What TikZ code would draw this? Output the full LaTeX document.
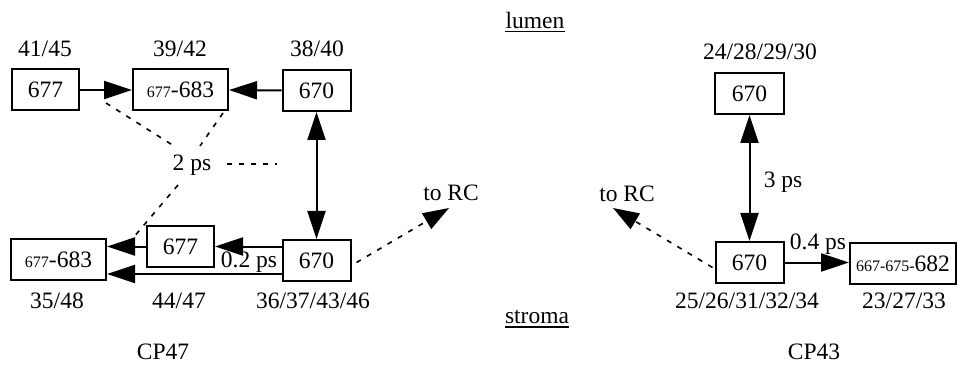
\documentclass[tikz,border=0pt]{standalone}
\usepackage{fontspec}
\setmainfont{Liberation Serif}
\usetikzlibrary{arrows.meta}
\newcommand{\sm}[1]{{\fontsize{16}{18}\selectfont #1}}
\begin{document}
\begin{tikzpicture}[x=1pt,y=-1pt,
  every node/.style={font=\fontsize{23.5}{28}\selectfont, inner sep=0pt},
  box/.style={draw, line width=2pt, minimum height=41pt, anchor=center},
  arr/.style={-{Triangle[length=28pt,width=18pt]}, line width=2pt},
  darr/.style={{Triangle[length=28pt,width=18pt]}-{Triangle[length=28pt,width=18pt]}, line width=2pt},
  dsh/.style={line width=1.6pt, dash pattern=on 5pt off 7pt},
  darw/.style={dsh, -{Triangle[length=26pt,width=18pt]}},
  lbl/.style={anchor=center}]
\useasboundingbox (0,0) rectangle (958,366);

% CP47 boxes
\node[box, minimum width=67pt] (a1) at (45.5,90) {677};
\node[box, minimum width=95pt] (a2) at (180.5,90) {\sm{677}-683};
\node[box, minimum width=68pt] (a3) at (316.5,90.5) {670};
\node[box, minimum width=95pt] (b1) at (58.5,259.5) {\sm{677}-683};
\node[box, minimum width=67pt] (b2) at (180.5,246.5) {677};
\node[box, minimum width=68pt] (b3) at (316.5,260.5) {670};

% CP43 boxes
\node[box, minimum width=69pt] (c1) at (749.5,93.5) {670};
\node[box, minimum width=68pt] (c2) at (749.5,262.5) {670};
\node[box, minimum width=106pt] (c3) at (903,263.5) {\sm{667-675-}682};

% labels
\node[lbl] (l1) at (45,49) {41/45};
\node[lbl] (l2) at (180,49) {39/42};
\node[lbl] (l3) at (317,49) {38/40};
\node[lbl] (l4) at (760,52) {24/28/29/30};
\node[lbl] (l5) at (57,301) {35/48};
\node[lbl] (l6) at (179,301) {44/47};
\node[lbl] (l7) at (313,301) {36/37/43/46};
\node[lbl] (l8) at (747,301) {25/26/31/32/34};
\node[lbl] (l9) at (904,301) {23/27/33};
\node[lbl] (cp47) at (163,352) {CP47};
\node[lbl] (cp43) at (814,352) {CP43};
\node[lbl] (lumen) at (535,20) {lumen};
\draw[line width=1.4pt] ([yshift=-3.5pt]lumen.base west) -- ([yshift=-3.5pt]lumen.base east);
\node[lbl] (stroma) at (537,317) {stroma};
\draw[line width=1.4pt] ([yshift=-3.5pt]stroma.base west) -- ([yshift=-3.5pt]stroma.base east);

\node[lbl] (ps2) at (192,165) {2 ps};
\node[lbl] (ps02) at (249,262) {0.2 ps};
\node[lbl] (ps3) at (783,182) {3 ps};
\node[lbl] (ps04) at (818,244) {0.4 ps};
\node[lbl] (rc1) at (451,193) {to RC};
\node[lbl] (rc2) at (627,194) {to RC};

% solid arrows CP47
\draw[arr] (a1.east) -- (a2.west);
\draw[arr] (a3.west) -- (a2.east);
\draw[darr] (a3.south) -- (b3.north);
\draw[arr] (b3.west |- b2.east) -- (b2.east);
\draw[arr] (b2.west) -- (b1.east |- b2.west);
\coordinate (lowy) at (0,274);
\draw[arr] (b3.west |- lowy) -- (b1.east |- lowy);

% solid arrows CP43
\draw[darr] (c1.south) -- (c2.north);
\draw[arr] (c2.east) -- (c3.west |- c2.east);

% dashed lines
\coordinate (d1s) at (106,103);
\coordinate (d1e) at (174,146);
\coordinate (d2s) at (223,113);
\coordinate (d2e) at (200,146);
\coordinate (d3s) at (227,164);
\coordinate (d3e) at (277,164);
\coordinate (d4s) at (178,185);
\coordinate (d4e) at (133,238);
\draw[dsh] (d1s) -- (d1e);
\draw[dsh] (d2s) -- (d2e);
\draw[dsh] (d3s) -- (d3e);
\draw[dsh] (d4s) -- (d4e);

\coordinate (t1) at (449,208);
\coordinate (t2) at (613,208);
\draw[darw] (b3.east) ++(5,2) -- (t1);
\draw[darw] ([xshift=-2pt,yshift=-5pt]c2.west) -- (t2);
\end{tikzpicture}
\end{document}
